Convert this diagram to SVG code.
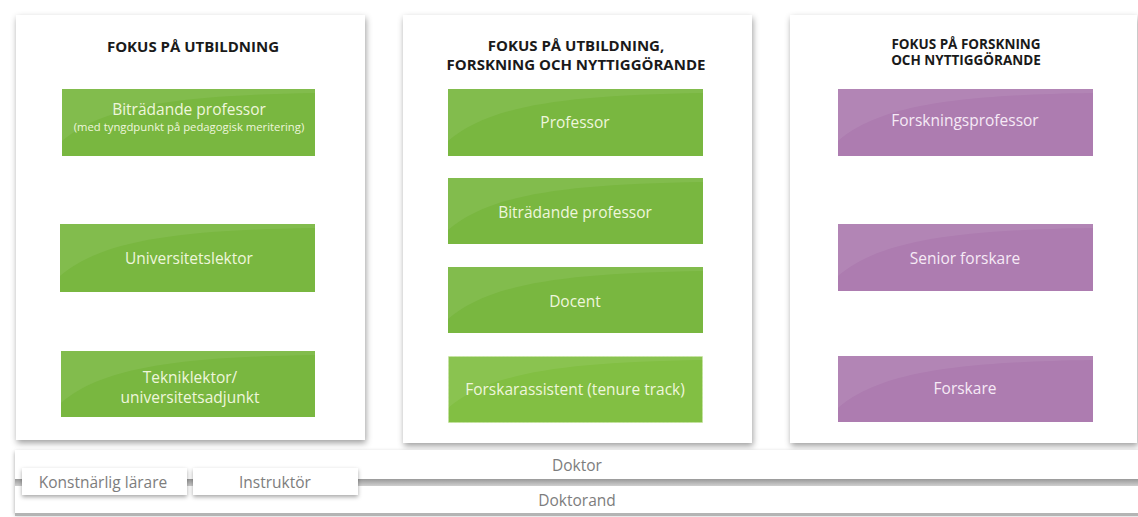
<svg xmlns="http://www.w3.org/2000/svg" width="1138" height="517" viewBox="0 0 1138 517">
<defs>
  <filter id="shadow" x="-5%" y="-5%" width="110%" height="112%">
    <feDropShadow dx="1" dy="3" stdDeviation="3" flood-color="#000" flood-opacity="0.38"/>
  </filter>
  <filter id="shadowSm" x="-5%" y="-20%" width="110%" height="160%">
    <feDropShadow dx="0" dy="2" stdDeviation="2" flood-color="#000" flood-opacity="0.35"/>
  </filter>
  <linearGradient id="bar" x1="0" y1="0" x2="0" y2="1">
    <stop offset="0" stop-color="#999999"/>
    <stop offset="1" stop-color="#cfcfcf"/>
  </linearGradient>
  <path id="gloss" d="M0,52 C40,18 110,6 255,4 L255,0 L0,0 Z" fill="#ffffff" opacity="0.07"/>
  <style>
    .panel { fill: #ffffff; filter: url(#shadow); }
    .head { font-family: "Open Sans", "Liberation Sans", sans-serif; font-weight: 700; fill: #1a1a1a; text-anchor: middle; }
    .green { fill: #79b740; }
    .green2 { fill: #82bf43; stroke: #c6e49c; stroke-width: 1; stroke-dasharray: 2 2; }
    .purple { fill: #ad7cb0; }
    .gt { font-family: "Open Sans", "Liberation Sans", sans-serif; font-size: 15.5px; fill: #eef6dc; text-anchor: middle; }
    .pt { font-family: "Open Sans", "Liberation Sans", sans-serif; font-size: 15.5px; fill: #f6eaf6; text-anchor: middle; }
    .sub { font-size: 11.3px; }
    .bt { font-family: "Open Sans", "Liberation Sans", sans-serif; font-size: 15.5px; fill: #7d7d7d; text-anchor: middle; }
    .wbox { fill: #ffffff; filter: url(#shadowSm); }
  </style>
</defs>
<rect width="1138" height="517" fill="#ffffff"/>

<!-- Panels -->
<g id="panel-utbildning">
  <rect class="panel" x="16" y="15" width="349" height="425"/>
  <text class="head" x="193" y="52" font-size="15">FOKUS PÅ UTBILDNING</text>
</g>
<g id="panel-utb-forsk">
  <rect class="panel" x="403" y="15" width="349" height="428"/>
  <text class="head" x="576" y="51" font-size="15">FOKUS PÅ UTBILDNING,</text>
  <text class="head" x="576" y="70" font-size="15">FORSKNING OCH NYTTIGGÖRANDE</text>
</g>
<g id="panel-forskning">
  <rect class="panel" x="790" y="15" width="347" height="428"/>
  <text class="head" x="966" y="48.5" font-size="13.5">FOKUS PÅ FORSKNING</text>
  <text class="head" x="966" y="65" font-size="13.5">OCH NYTTIGGÖRANDE</text>
</g>

<!-- Left column -->
<g id="bitradande-ped">
  <rect class="green" x="62" y="89" width="253" height="67"/>
  <use href="#gloss" x="62" y="89"/>
  <text class="gt" x="189" y="115">Biträdande professor</text>
  <text class="gt sub" x="189" y="131">(med tyngdpunkt på pedagogisk meritering)</text>
</g>
<g id="universitetslektor">
  <rect class="green" x="60" y="224" width="255" height="68"/>
  <use href="#gloss" x="60" y="224"/>
  <text class="gt" x="189" y="264">Universitetslektor</text>
</g>
<g id="tekniklektor">
  <rect class="green" x="61" y="351" width="254" height="66"/>
  <use href="#gloss" x="61" y="351"/>
  <text class="gt" x="190" y="383">Tekniklektor/</text>
  <text class="gt" x="190" y="403">universitetsadjunkt</text>
</g>

<!-- Middle column -->
<g id="professor">
  <rect class="green" x="448" y="89" width="255" height="67"/>
  <use href="#gloss" x="448" y="89"/>
  <text class="gt" x="575" y="128">Professor</text>
</g>
<g id="bitradande-professor">
  <rect class="green" x="448" y="178" width="255" height="66"/>
  <use href="#gloss" x="448" y="178"/>
  <text class="gt" x="575" y="218">Biträdande professor</text>
</g>
<g id="docent">
  <rect class="green" x="448" y="267" width="255" height="66"/>
  <use href="#gloss" x="448" y="267"/>
  <text class="gt" x="575" y="307">Docent</text>
</g>
<g id="forskarassistent">
  <rect class="green2" x="448.5" y="356.5" width="254" height="66"/>
  <use href="#gloss" x="448" y="356"/>
  <text class="gt" x="575" y="395">Forskarassistent (tenure track)</text>
</g>

<!-- Right column -->
<g id="forskningsprofessor">
  <rect class="purple" x="838" y="89" width="255" height="67"/>
  <use href="#gloss" x="838" y="89"/>
  <text class="pt" x="965" y="126">Forskningsprofessor</text>
</g>
<g id="senior-forskare">
  <rect class="purple" x="838" y="224" width="255" height="67"/>
  <use href="#gloss" x="838" y="224"/>
  <text class="pt" x="965" y="264">Senior forskare</text>
</g>
<g id="forskare">
  <rect class="purple" x="838" y="356" width="255" height="66"/>
  <use href="#gloss" x="838" y="356"/>
  <text class="pt" x="965" y="394">Forskare</text>
</g>

<!-- Bottom band -->
<g id="bottom-band">
  <rect x="15" y="450" width="1130" height="63" fill="#ffffff" filter="url(#shadowSm)"/>
  <rect x="15" y="479" width="1130" height="7" fill="url(#bar)"/>
  <rect x="15" y="513" width="1130" height="3" fill="#b4b4b4"/>
</g>
<g id="doktor">
  <text class="bt" x="577" y="471">Doktor</text>
</g>
<g id="doktorand">
  <text class="bt" x="577" y="506">Doktorand</text>
</g>
<g id="konstnarlig-larare">
  <rect class="wbox" x="22" y="468" width="165" height="27"/>
  <text class="bt" x="103" y="488">Konstnärlig lärare</text>
</g>
<g id="instruktor">
  <rect class="wbox" x="193" y="468" width="165" height="27"/>
  <text class="bt" x="275" y="488">Instruktör</text>
</g>

<g id="connectors"></g>
</svg>
